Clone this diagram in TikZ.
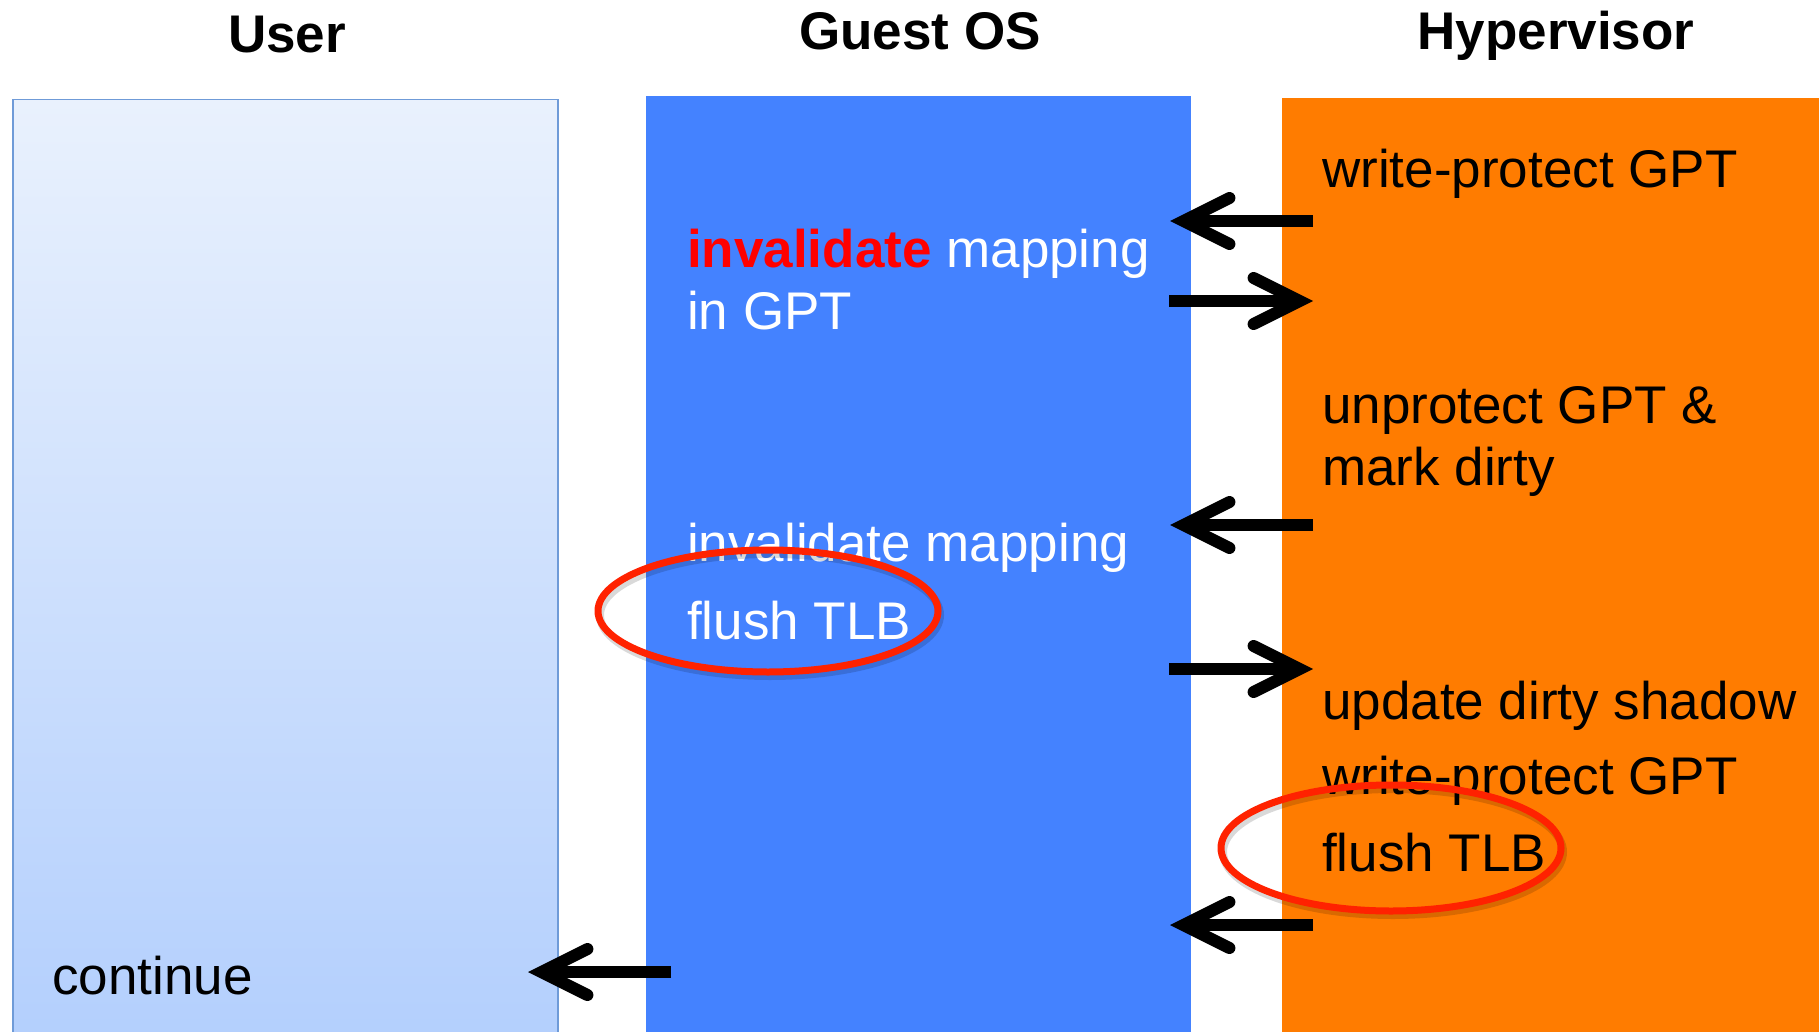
\documentclass[tikz,border=0pt]{standalone}
\usepackage{fontspec}
\setmainfont{Liberation Sans}
\usetikzlibrary{arrows.meta,shapes.geometric}

\definecolor{userTop}{HTML}{E9F1FD}
\definecolor{userBot}{HTML}{B3CFFD}
\definecolor{userEdge}{HTML}{6F9BD8}
\definecolor{guestBlue}{HTML}{4482FF}
\definecolor{hvOrange}{HTML}{FF7C00}
\definecolor{ringRed}{HTML}{FF2200}
\definecolor{hotRed}{HTML}{FF0000}

\begin{document}
\begin{tikzpicture}[x=1pt,y=-1pt,
  lane/.style={rectangle, inner sep=0, anchor=north west},
  title/.style={font=\fontsize{53}{60}\selectfont\bfseries, anchor=base, inner sep=0},
  body/.style={font=\fontsize{53}{62}\selectfont, anchor=base west, inner sep=0, align=left},
  flow/.style={line width=12pt, -{Straight Barb[length=46pt,width=46pt,line cap=round,line join=miter]}},
  ring/.style={ellipse, draw=ringRed, line width=7pt, inner sep=0},
  ringshadow/.style={draw=black, opacity=0.15, line width=8pt}
]
\useasboundingbox (0,0) rectangle (1819,1032);
\fill[white] (0,0) rectangle (1819,1032);

% swim lanes
\node[lane, top color=userTop, bottom color=userBot, draw=userEdge, line width=1.5pt,
      minimum width=545pt, minimum height=945pt] (user) at (12,99) {};
\node[lane, fill=guestBlue, minimum width=545pt, minimum height=940pt] (guest) at (646,96) {};
\node[lane, fill=hvOrange, minimum width=540pt, minimum height=940pt] (hv) at (1282,98) {};

% lane titles
\node[title] (tUser) at (287,53) {User};
\node[title] (tGuest) at (920,50) {Guest OS};
\node[title] (tHv) at (1556,50) {Hypervisor};

% hypervisor steps
\node[body] (hv1) at (1322,188) {write-protect GPT};
\node[body] (hv2) at (1322,423) {unprotect GPT \&};
\node[body] (hv3) at (1322,485) {mark dirty};
\node[body] (hv4) at (1322,719) {update dirty shadow};
\node[body] (hv5) at (1322,794) {write-protect GPT};
\node[body] (hv6) at (1322,871) {flush TLB};

% guest OS steps
\node[body, text=white] (g1) at (687,267) {\textcolor{hotRed}{\bfseries invalidate} mapping};
\node[body, text=white] (g2) at (687,329) {in GPT};
\node[body, text=white] (g3) at (687,561) {invalidate mapping};
\node[body, text=white] (g4) at (687,639) {flush TLB};

% user step
\node[body] (u1) at (52,994) {continue};

% connector end points
\coordinate (a1s) at (1313,221); \coordinate (a1e) at (1170,221);
\coordinate (a2s) at (1169,301); \coordinate (a2e) at (1313,301);
\coordinate (a3s) at (1313,525); \coordinate (a3e) at (1170,525);
\coordinate (a4s) at (1169,669); \coordinate (a4e) at (1313,669);
\coordinate (a5s) at (1313,925); \coordinate (a5e) at (1170,925);
\coordinate (a6s) at (671,972);  \coordinate (a6e) at (528,972);

\draw[flow] (a1s) -- (a1e);
\draw[flow] (a2s) -- (a2e);
\draw[flow] (a3s) -- (a3e);
\draw[flow] (a4s) -- (a4e);
\draw[flow] (a5s) -- (a5e);
\draw[flow] (a6s) -- (a6e);

% highlight rings
\draw[ringshadow] (770,615) ellipse [x radius=170, y radius=61];
\draw[ringshadow] (1393,852) ellipse [x radius=170, y radius=63];
\node[ring, minimum width=340pt, minimum height=122pt] (ringGuest) at (768,611) {};
\node[ring, minimum width=340pt, minimum height=126pt] (ringHv) at (1391,848) {};
\end{tikzpicture}
\end{document}
